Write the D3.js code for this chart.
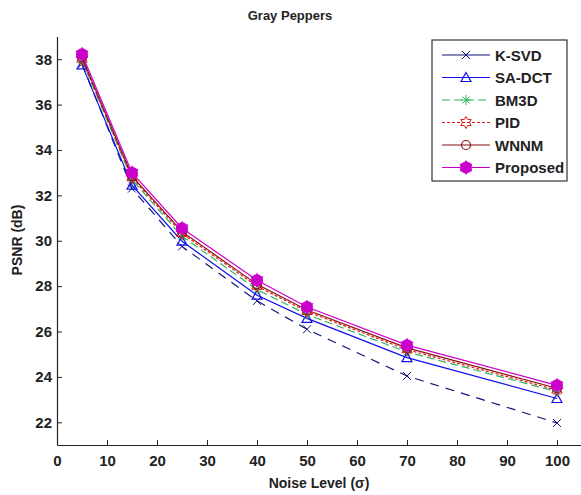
<!DOCTYPE html>
<html>
<head>
<meta charset="utf-8">
<script src="https://cdn.jsdelivr.net/npm/d3@7"></script>
<style>
  body { margin: 0; background: #fff; }
  text { font-family: "Liberation Sans", Arial, sans-serif; font-weight: bold; }
</style>
</head>
<body>
<svg id="chart" width="581" height="495"></svg>
<script>
// noise levels
const sigmas = [5, 15, 25, 40, 50, 70, 100];

// PSNR values
const ksvd     = [37.80, 32.30, 29.75, 27.35, 26.10, 24.04, 21.97];
const sadct    = [37.75, 32.45, 29.98, 27.60, 26.58, 24.85, 23.05];
const bm3d     = [37.95, 32.70, 30.20, 27.85, 26.75, 25.10, 23.35];
const pid      = [38.00, 32.78, 30.32, 28.00, 26.88, 25.20, 23.42];
const wnnm     = [38.08, 32.85, 30.40, 28.08, 26.95, 25.28, 23.50];
const proposed = [38.22, 33.00, 30.55, 28.26, 27.08, 25.40, 23.63];

const xTicks = [0, 10, 20, 30, 40, 50, 60, 70, 80, 90, 100];
const yTicks = [22, 24, 26, 28, 30, 32, 34, 36, 38];

const series = [
  { name: "K-SVD",    values: ksvd,     color: "#14147a", dash: "9,7", legendDash: null, marker: "x" },
  { name: "SA-DCT",   values: sadct,    color: "#1010ee", dash: null,  legendDash: null, marker: "triangle" },
  { name: "BM3D",     values: bm3d,     color: "#2fb55a", dash: "8,4", legendDash: "8,4", marker: "asterisk" },
  { name: "PID",      values: pid,      color: "#e01818", dash: "3,2", legendDash: "3,2", marker: "hexagram" },
  { name: "WNNM",     values: wnnm,     color: "#8a1010", dash: null,  legendDash: null, marker: "circle" },
  { name: "Proposed", values: proposed, color: "#cc00cc", dash: null,  legendDash: null, marker: "filled" }
];

const svg = d3.select("#chart");

const x = d3.scaleLinear().domain([0, 105]).range([57, 582]);
const y = d3.scaleLinear().domain([21, 39]).range([445, 36.5]);

// axes (MATLAB-style, ticks inside, no box)
const xAxis = svg.append("g")
  .attr("transform", `translate(0,${y(21)})`)
  .call(d3.axisBottom(x).tickValues(xTicks).tickSizeInner(-5).tickSizeOuter(0).tickPadding(10));
const yAxis = svg.append("g")
  .attr("transform", `translate(${x(0)},0)`)
  .call(d3.axisLeft(y).tickValues(yTicks).tickSizeInner(-5).tickSizeOuter(0).tickPadding(5));

[xAxis, yAxis].forEach(a => {
  a.select(".domain").attr("stroke", "#222").attr("stroke-width", 1.2);
  a.selectAll(".tick line").attr("stroke", "#222");
  a.selectAll(".tick text").attr("fill", "#222").attr("font-size", 15)
    .attr("font-family", "'Liberation Sans Narrow', 'Liberation Sans', Arial, sans-serif");
});

svg.append("text").attr("x", 290).attr("y", 20).attr("text-anchor", "middle")
  .attr("font-size", 13).attr("fill", "#222").text("Gray Peppers");
svg.append("text").attr("x", 319).attr("y", 488).attr("text-anchor", "middle")
  .attr("font-size", 14).attr("fill", "#222").text("Noise Level (σ)");
svg.append("text").attr("transform", "translate(22,240) rotate(-90)").attr("text-anchor", "middle")
  .attr("font-size", 14).attr("fill", "#222").text("PSNR (dB)");

function hexagram(r) {
  const p = [];
  for (let i = 0; i < 12; i++) {
    const a = -Math.PI / 2 + i * Math.PI / 6;
    const rr = i % 2 === 0 ? r : r * 0.58;
    p.push([rr * Math.cos(a), rr * Math.sin(a)]);
  }
  return "M" + p.map(d => d.join(",")).join("L") + "Z";
}

function drawMarker(g, type, color) {
  if (type === "x") {
    g.append("path").attr("d", "M-4,-4L4,4M-4,4L4,-4").attr("stroke", color).attr("fill", "none");
  } else if (type === "triangle") {
    g.append("path").attr("d", "M0,-5L5,4L-5,4Z").attr("stroke", color).attr("fill", "none").attr("stroke-width", 1.2);
  } else if (type === "asterisk") {
    g.append("path").attr("d", "M0,-5L0,5M-5,0L5,0M-3.5,-3.5L3.5,3.5M-3.5,3.5L3.5,-3.5")
      .attr("stroke", color).attr("fill", "none");
  } else if (type === "hexagram") {
    g.append("path").attr("d", hexagram(6)).attr("stroke", color).attr("fill", "none");
  } else if (type === "circle") {
    g.append("circle").attr("r", 4.5).attr("stroke", color).attr("fill", "none").attr("stroke-width", 1.2);
  } else if (type === "filled") {
    g.append("circle").attr("r", 6).attr("fill", color);
    g.append("path").attr("d", hexagram(7.5)).attr("fill", color);
  }
}

const line = d3.line().x((d, i) => x(sigmas[i])).y(d => y(d));

series.forEach(s => {
  svg.append("path").datum(s.values)
    .attr("d", line)
    .attr("fill", "none")
    .attr("stroke", s.color)
    .attr("stroke-width", 1.2)
    .attr("stroke-dasharray", s.dash);
  s.values.forEach((v, i) => {
    const g = svg.append("g").attr("transform", `translate(${x(sigmas[i])},${y(v)})`);
    drawMarker(g, s.marker, s.color);
  });
});

// legend
const lg = svg.append("g");
lg.append("rect").attr("x", 432).attr("y", 40).attr("width", 135).attr("height", 141)
  .attr("fill", "#fff").attr("stroke", "#333").attr("stroke-width", 1.2);
series.forEach((s, i) => {
  const ly = 55 + i * 22.5;
  lg.append("line").attr("x1", 442).attr("x2", 490).attr("y1", ly).attr("y2", ly)
    .attr("stroke", s.color).attr("stroke-width", 1.2).attr("stroke-dasharray", s.legendDash);
  drawMarker(lg.append("g").attr("transform", `translate(466,${ly})`), s.marker, s.color);
  lg.append("text").attr("x", 495).attr("y", ly + 5.5).attr("font-size", 15).attr("fill", "#222").text(s.name);
});
</script>
</body>
</html>
